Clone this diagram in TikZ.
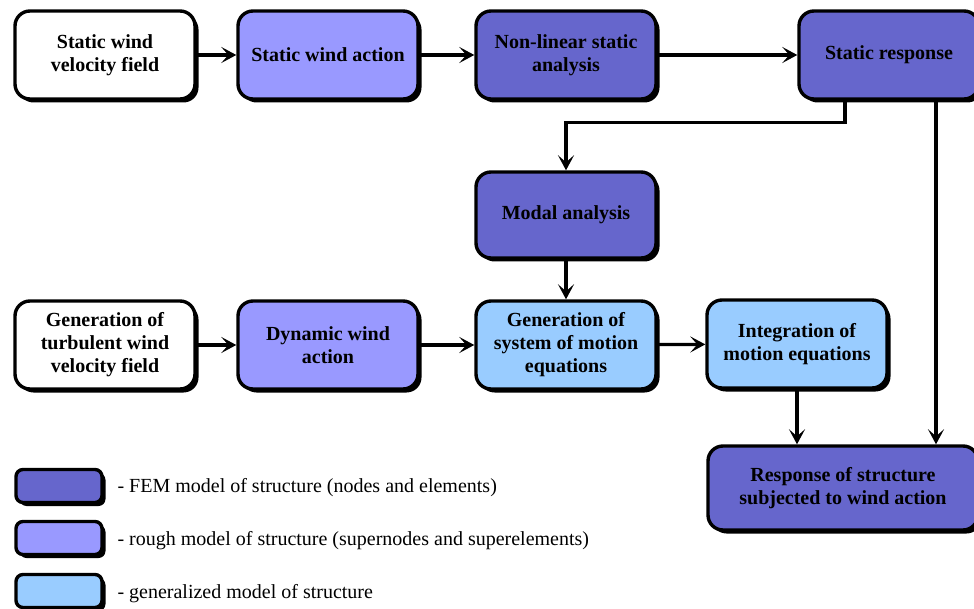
\documentclass[tikz,border=0pt]{standalone}
\usepackage{fontspec}
\setmainfont{Liberation Serif}
\usetikzlibrary{arrows.meta,shadows}

\definecolor{femblue}{HTML}{6666CC}
\definecolor{roughblue}{HTML}{9999FF}
\definecolor{genblue}{HTML}{99CCFF}

\tikzset{
	block/.style={draw=black, line width=3.4pt, rounded corners=15pt, align=center,
		minimum width=180pt, minimum height=88pt, inner sep=2pt,
		font=\fontsize{20}{23}\selectfont\bfseries,
		drop shadow={shadow xshift=3.5pt, shadow yshift=-3.5pt, fill=black, opacity=1}},
	fem/.style={block, fill=femblue},
	rough/.style={block, fill=roughblue},
	gen/.style={block, fill=genblue},
	plain/.style={block, fill=white},
	keybox/.style={block, minimum width=86pt, minimum height=33pt, rounded corners=7pt},
	keytext/.style={anchor=west, font=\fontsize{20}{23}\selectfont},
	conn/.style={line width=3.2pt, -{Stealth[length=15pt, width=16pt, inset=7pt]}}
}

\begin{document}
\begin{tikzpicture}[x=1pt, y=-1pt]
	\useasboundingbox (0,0) rectangle (974,609);

	%% upper row
	\node [plain] (svf)   at (105,55) {Static wind\\velocity field};
	\node [rough] (swa)   at (328,55) {Static wind action};
	\node [fem]   (nls)   at (566,55) {Non-linear static\\analysis};
	\node [fem]   (sresp) at (889,55) {Static response};

	\node [fem, minimum height=86pt] (modal) at (566,215) {Modal analysis};

	%% lower row
	\node [plain] (tvf)  at (105,345) {Generation of\\turbulent wind\\velocity field};
	\node [rough] (dwa)  at (328,345) {Dynamic wind\\action};
	\node [gen]   (gsme) at (566,345) {Generation of\\system of motion\\equations};
	\node [gen]   (ime)  at (797,344) {Integration of\\motion equations};

	\node [fem, minimum width=270pt, minimum height=84pt] (resp) at (843,488) {Response of structure\\subjected to wind action};

	%% connectors
	\draw [conn] (svf) -- (swa);
	\draw [conn] (swa) -- (nls);
	\draw [conn] (nls) -- (sresp);
	\draw [conn] ([xshift=-44pt]sresp.south) -- ++(0,22) -| (modal.north);
	\draw [conn] (modal) -- (gsme);
	\draw [conn] (tvf) -- (dwa);
	\draw [conn] (dwa) -- (gsme);
	\draw [conn] (gsme) -- (ime);
	\draw [conn] (ime.south) -- (ime.south |- resp.north);
	\draw [conn] ([xshift=47pt]sresp.south) -- ([xshift=47pt]sresp.south |- resp.north);

	%% legend
	\node [keybox, fill=femblue]   (kfem)   at (59,486) {};
	\node [keybox, fill=roughblue] (krough) at (59,538) {};
	\node [keybox, fill=genblue]   (kgen)   at (59,591) {};
	\node [keytext] (tfem)   at (114,488) {- FEM model of structure (nodes and elements)};
	\node [keytext] (trough) at (114,541) {- rough model of structure (supernodes and superelements)};
	\node [keytext] (tgen)   at (114,594) {- generalized model of structure};

\end{tikzpicture}
\end{document}
